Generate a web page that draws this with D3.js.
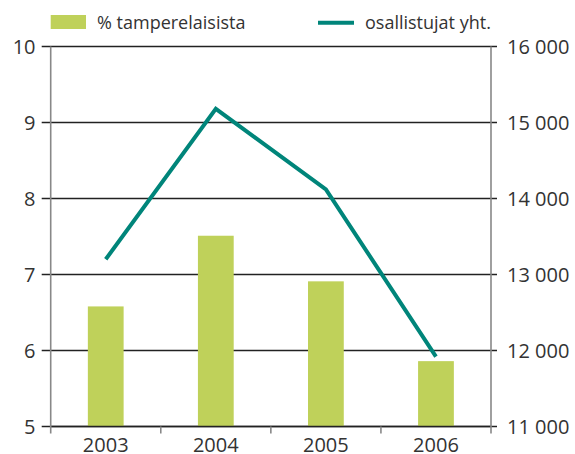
<!DOCTYPE html>
<html>
<head>
<meta charset="utf-8">
<script src="https://cdn.jsdelivr.net/npm/d3@7"></script>
<style>
  body { margin: 0; background: #fff; }
  text { font-family: "Open Sans", sans-serif; fill: #333; }
</style>
</head>
<body>
<script>
// chart data
var years = ["2003", "2004", "2005", "2006"];
var pctTampere = [6.58, 7.51, 6.91, 5.86];          // bars, left axis
var participants = [13200, 15180, 14120, 11920];    // line, right axis
var leftTicks = [5, 6, 7, 8, 9, 10];
var rightTicks = [11000, 12000, 13000, 14000, 15000, 16000];

var width = 575, height = 454;
var plotLeft = 50.7, plotRight = 491, plotTop = 46.5, plotBottom = 426.5;

var svg = d3.select("body").append("svg")
    .attr("width", width)
    .attr("height", height);

var x = d3.scaleBand().domain(years).range([plotLeft, plotRight]).padding(0);
var yL = d3.scaleLinear().domain([5, 10]).range([plotBottom, plotTop]);
var yR = d3.scaleLinear().domain([11000, 16000]).range([plotBottom, plotTop]);

// horizontal gridlines
svg.append("g").selectAll("line")
    .data(leftTicks)
    .enter().append("line")
        .attr("x1", plotLeft - 9)
        .attr("x2", plotRight + 6)
        .attr("y1", function(d) { return yL(d); })
        .attr("y2", function(d) { return yL(d); })
        .attr("stroke", "#222")
        .attr("stroke-width", 1.3);

// bars
var barW = x.bandwidth() * 0.325;
svg.append("g").selectAll("rect")
    .data(pctTampere)
    .enter().append("rect")
        .attr("x", function(d, i) { return x(years[i]) + x.bandwidth() / 2 - barW / 2; })
        .attr("y", function(d) { return yL(d); })
        .attr("width", barW)
        .attr("height", function(d) { return plotBottom - yL(d); })
        .attr("fill", "#bfd15a");

// baseline redrawn over bars
svg.append("line")
    .attr("x1", plotLeft).attr("x2", plotRight)
    .attr("y1", plotBottom).attr("y2", plotBottom)
    .attr("stroke", "#222").attr("stroke-width", 1.3);

// vertical axis lines
[plotLeft, plotRight].forEach(function(xx) {
    svg.append("line")
        .attr("x1", xx).attr("x2", xx)
        .attr("y1", plotTop).attr("y2", plotBottom + 7)
        .attr("stroke", "#888").attr("stroke-width", 1.6);
});

// x ticks at band edges
svg.append("g").selectAll("line")
    .data(years.slice(1))
    .enter().append("line")
        .attr("x1", function(d) { return x(d); })
        .attr("x2", function(d) { return x(d); })
        .attr("y1", plotBottom)
        .attr("y2", plotBottom + 7)
        .attr("stroke", "#888")
        .attr("stroke-width", 1.6);

// line series
var line = d3.line()
    .x(function(d, i) { return x(years[i]) + x.bandwidth() / 2; })
    .y(function(d) { return yR(d); });

svg.append("path")
    .datum(participants)
    .attr("fill", "none")
    .attr("stroke", "#00857a")
    .attr("stroke-width", 4)
    .attr("d", line);

// axis labels
svg.append("g").selectAll("text")
    .data(leftTicks)
    .enter().append("text")
        .attr("x", 35.5)
        .attr("y", function(d) { return yL(d); })
        .attr("dy", "0.36em")
        .attr("text-anchor", "end")
        .style("font-size", "20px")
        .text(function(d) { return d; });

svg.append("g").selectAll("text")
    .data(rightTicks)
    .enter().append("text")
        .attr("x", 507)
        .attr("y", function(d) { return yR(d); })
        .attr("dy", "0.36em")
        .attr("text-anchor", "start")
        .style("font-size", "20px")
        .text(function(d) { return d3.format(",")(d).replace(",", " "); });

svg.append("g").selectAll("text")
    .data(years)
    .enter().append("text")
        .attr("x", function(d) { return x(d) + x.bandwidth() / 2; })
        .attr("y", 451.5)
        .attr("text-anchor", "middle")
        .style("font-size", "20px")
        .text(function(d) { return d; });

// legend
var legend = svg.append("g");
legend.append("rect")
    .attr("x", 50.7).attr("y", 15)
    .attr("width", 35.3).attr("height", 14)
    .attr("fill", "#bfd15a");
legend.append("text")
    .attr("x", 97).attr("y", 28.5)
    .style("font-size", "18px")
    .text("% tamperelaisista");
legend.append("line")
    .attr("x1", 318).attr("x2", 354)
    .attr("y1", 22.7).attr("y2", 22.7)
    .attr("stroke", "#00857a").attr("stroke-width", 4);
legend.append("text")
    .attr("x", 365).attr("y", 28.5)
    .style("font-size", "18px")
    .text("osallistujat yht.");
</script>
</body>
</html>
